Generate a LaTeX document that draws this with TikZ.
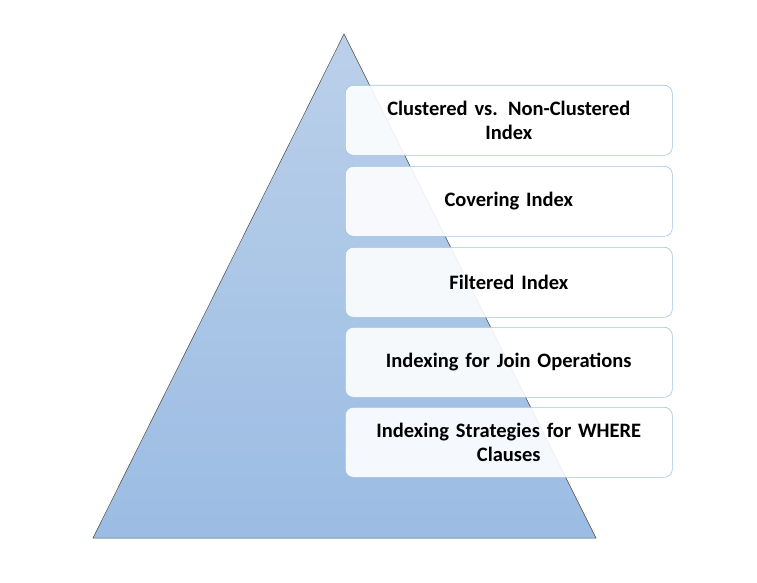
\documentclass[tikz,border=0pt]{standalone}
\usepackage{fontspec}
\setmainfont{Carlito}
\begin{document}
\begin{tikzpicture}[x=1pt,y=-1pt,
  box/.style={draw=bordc, line width=0.6pt, rounded corners=8pt, fill=white, fill opacity=0.9, text opacity=1,
    minimum width=327pt, minimum height=70pt, text width=310pt, align=center, font=\bfseries\fontsize{20.5}{24}\selectfont, anchor=north west}]
\useasboundingbox (0,0) rectangle (757,583);
\definecolor{ttop}{HTML}{BBD0EA}\definecolor{tbot}{HTML}{9BBCE3}\definecolor{bordc}{HTML}{9DC3E6}
\node[draw=none, inner sep=0] (apex) at (344,34) {};
\node[draw=none, inner sep=0] (bl) at (93,538) {};
\node[draw=none, inner sep=0] (br) at (596,538) {};
\shade[top color=ttop, bottom color=tbot] (344,34) -- (596,538) -- (93,538) -- cycle;
\draw[line width=0.5pt, draw=black!70] (apex.center) -- (br.center) -- (bl.center) -- cycle;
\node[box] (b1) at (345,85) {Clustered vs. Non-Clustered\\Index};
\node[box] (b2) at (345,166) {Covering Index};
\node[box] (b3) at (345,247) {Filtered Index};
\node[box] (b4) at (345,327) {Indexing for Join Operations};
\node[box] (b5) at (345,407) {Indexing Strategies for WHERE\\Clauses};
\end{tikzpicture}
\end{document}
